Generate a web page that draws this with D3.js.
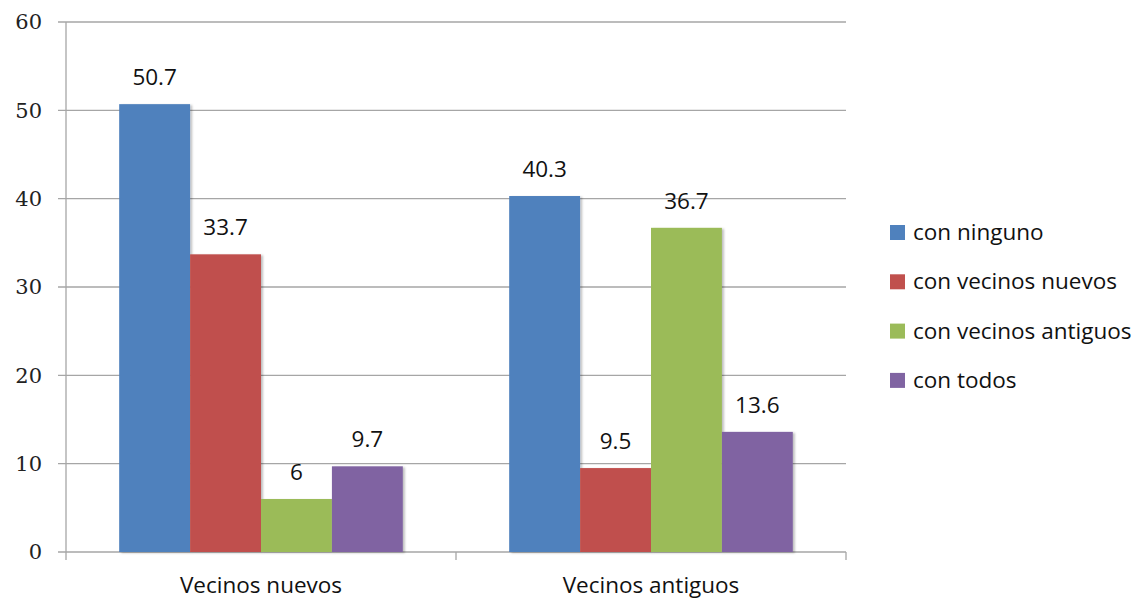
<!DOCTYPE html>
<html>
<head>
<meta charset="utf-8">
<script src="https://cdn.jsdelivr.net/npm/d3@7"></script>
<style>
  body { margin: 0; background: #fff; }
  .tick text { font-family: "DejaVu Serif", serif; font-size: 21px; fill: #222; }
  .lbl { font-family: "Open Sans", sans-serif; font-size: 22.5px; fill: #111; }
</style>
</head>
<body>
<div id="chart"></div>
<script>
// categories and series
var categories = ["Vecinos nuevos", "Vecinos antiguos"];
var seriesNames = ["con ninguno", "con vecinos nuevos", "con vecinos antiguos", "con todos"];
var seriesColors = ["#4F81BD", "#C0504D", "#9BBB59", "#8064A2"];
var valuesNuevos = [50.7, 33.7, 6, 9.7];
var valuesAntiguos = [40.3, 9.5, 36.7, 13.6];
var yTicks = [0, 10, 20, 30, 40, 50, 60];

var svgWidth = 1146;
var svgHeight = 599;
var margin = { top: 22, right: 300, bottom: 47, left: 66 };
var width = 846 - margin.left;
var height = 552 - margin.top;

var svg = d3.select("#chart")
  .append("svg")
  .attr("width", svgWidth)
  .attr("height", svgHeight);

var defs = svg.append("defs");
var shadow = defs.append("filter").attr("id", "shadow")
  .attr("x", "-10%").attr("y", "-10%").attr("width", "130%").attr("height", "130%");
shadow.append("feDropShadow")
  .attr("dx", 2).attr("dy", 1).attr("stdDeviation", 1.2)
  .attr("flood-color", "#000").attr("flood-opacity", 0.25);

var chartGroup = svg.append("g")
  .attr("transform", `translate(${margin.left}, ${margin.top})`);

var data = categories.map(function(c, i) {
  var vals = i == 0 ? valuesNuevos : valuesAntiguos;
  return { cat: c, vals: vals.map(function(v, j) { return { name: seriesNames[j], value: v, color: seriesColors[j] }; }) };
});

var x0 = d3.scaleBand().domain(categories).range([0, width]).paddingInner(0).paddingOuter(0);
var x1 = d3.scaleBand().domain(seriesNames).range([0, x0.bandwidth()]).paddingOuter(0.75).paddingInner(0);
var y = d3.scaleLinear().domain([0, 60]).range([height, 0]);

// gridlines
chartGroup.append("g")
  .selectAll("line")
  .data(yTicks)
  .enter()
  .append("line")
  .attr("x1", -8)
  .attr("x2", width)
  .attr("y1", d => y(d))
  .attr("y2", d => y(d))
  .attr("stroke", "#a6a6a6")
  .attr("stroke-width", 1.3);

// y axis
var leftAxis = d3.axisLeft(y).tickValues(yTicks).tickSize(0).tickPadding(24);
var yAxis = chartGroup.append("g").call(leftAxis);
yAxis.select(".domain").remove();

chartGroup.append("line")
  .attr("x1", 0).attr("x2", 0)
  .attr("y1", 0).attr("y2", height + 8)
  .attr("stroke", "#a6a6a6").attr("stroke-width", 1.3);

// category boundary ticks
chartGroup.append("g")
  .selectAll("line")
  .data([x0.bandwidth(), width])
  .enter()
  .append("line")
  .attr("x1", d => d).attr("x2", d => d)
  .attr("y1", height).attr("y2", height + 8)
  .attr("stroke", "#a6a6a6").attr("stroke-width", 1.3);

// bars
var groups = chartGroup.selectAll(".grp")
  .data(data)
  .enter()
  .append("g")
  .attr("class", "grp")
  .attr("transform", d => `translate(${x0(d.cat)},0)`);

groups.selectAll("rect")
  .data(d => d.vals)
  .enter()
  .append("rect")
  .attr("x", d => x1(d.name))
  .attr("width", x1.bandwidth())
  .attr("y", d => y(d.value))
  .attr("height", d => height - y(d.value))
  .attr("fill", d => d.color)
  .attr("filter", "url(#shadow)");

groups.selectAll("text")
  .data(d => d.vals)
  .enter()
  .append("text")
  .attr("class", "lbl")
  .attr("text-anchor", "middle")
  .attr("x", d => x1(d.name) + x1.bandwidth() / 2)
  .attr("y", d => y(d.value) - 19)
  .text(d => d.value);

// category labels
chartGroup.selectAll(".catlbl")
  .data(categories)
  .enter()
  .append("text")
  .attr("class", "lbl")
  .attr("text-anchor", "middle")
  .attr("x", d => x0(d) + x0.bandwidth() / 2)
  .attr("y", height + 41)
  .text(d => d);

// legend
var legend = svg.append("g").attr("transform", "translate(890, 225)");
var items = legend.selectAll("g")
  .data(seriesNames)
  .enter()
  .append("g")
  .attr("transform", (d, i) => `translate(0, ${i * 49.3})`);
items.append("rect")
  .attr("width", 15).attr("height", 15)
  .attr("fill", (d, i) => seriesColors[i]);
items.append("text")
  .attr("class", "lbl")
  .attr("x", 23)
  .attr("y", 15)
  .text(d => d);
</script>
</body>
</html>
